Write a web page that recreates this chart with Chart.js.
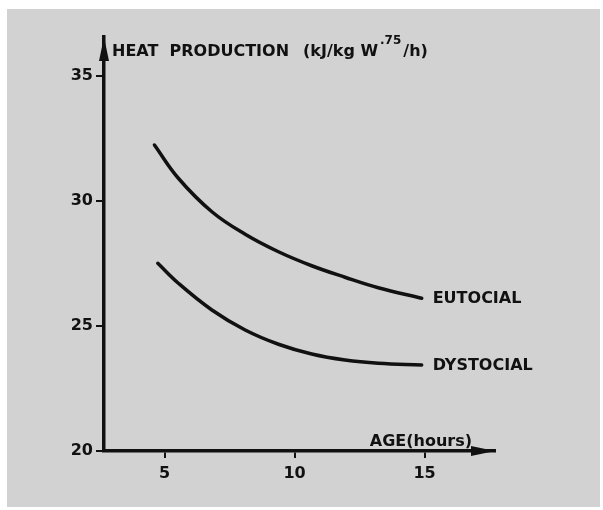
<!DOCTYPE html>
<html>
<head>
<meta charset="utf-8">
<script src="https://cdn.jsdelivr.net/npm/chart.js@4.4.1/dist/chart.umd.min.js"></script>
<style>
  html, body { margin: 0; padding: 0; background: #ffffff; }
  #wrap { width: 603px; height: 510px; position: relative; }
</style>
</head>
<body>
<div id="wrap"><canvas id="c" width="603" height="510"></canvas></div>
<script>
// ---- data ----
const ageEutocial  = [4.61, 5.53, 6.82, 8.10, 9.38, 10.66, 11.94, 13.22, 14.89];
const heatEutocial = [32.24, 30.91, 29.57, 28.67, 27.97, 27.41, 26.95, 26.53, 26.11];
const ageDystocial  = [4.74, 5.53, 6.82, 8.10, 9.38, 10.66, 11.94, 13.22, 14.89];
const heatDystocial = [27.51, 26.71, 25.64, 24.84, 24.27, 23.88, 23.64, 23.51, 23.44];
const xTicks = [5, 10, 15];
const yTicks = [20, 25, 30, 35];
const seriesNames = ['EUTOCIAL', 'DYSTOCIAL'];
const yTitleA = 'HEAT  PRODUCTION';
const yTitleB = '(kJ/kg W';
const yTitleSup = '.75';
const yTitleEnd = '/h)';
const xTitle = 'AGE(hours)';

const FONT = '"DejaVu Sans", sans-serif';
const INK = '#111111';

function toPoints(xs, ys) { return xs.map((x, i) => ({ x: x, y: ys[i] })); }

const decor = {
  id: 'decor',
  beforeDraw(chart) {
    const ctx = chart.ctx;
    ctx.save();
    ctx.fillStyle = '#ffffff';
    ctx.fillRect(0, 0, chart.width, chart.height);
    ctx.fillStyle = '#d2d2d2';
    ctx.fillRect(7, 9, 593, 498);
    ctx.restore();
  },
  afterDraw(chart) {
    const ctx = chart.ctx;
    const a = chart.chartArea;
    ctx.save();
    ctx.fillStyle = INK;
    // y-axis arrowhead
    ctx.beginPath();
    ctx.moveTo(a.left, a.top);
    ctx.lineTo(a.left - 5, a.top + 24);
    ctx.lineTo(a.left + 5, a.top + 24);
    ctx.closePath();
    ctx.fill();
    // x-axis arrowhead
    ctx.beginPath();
    ctx.moveTo(a.right, a.bottom);
    ctx.lineTo(a.right - 24, a.bottom - 5);
    ctx.lineTo(a.right - 24, a.bottom + 5);
    ctx.closePath();
    ctx.fill();

    // y title with superscript
    ctx.textBaseline = 'alphabetic';
    ctx.textAlign = 'left';
    ctx.font = 'bold 16px ' + FONT;
    const ty = 56;
    ctx.fillText(yTitleA, a.left + 8, ty);
    let tx = a.left + 199;
    ctx.fillText(yTitleB, tx, ty);
    tx += ctx.measureText(yTitleB).width + 2;
    ctx.font = 'bold 12px ' + FONT;
    ctx.fillText(yTitleSup, tx, ty - 12);
    tx += ctx.measureText(yTitleSup).width + 2;
    ctx.font = 'bold 16px ' + FONT;
    ctx.fillText(yTitleEnd, tx, ty);

    // x title
    ctx.textAlign = 'right';
    ctx.fillText(xTitle, a.right - 23, a.bottom - 5);

    // series labels at line ends
    ctx.textAlign = 'left';
    ctx.textBaseline = 'middle';
    chart.data.datasets.forEach((ds, i) => {
      const meta = chart.getDatasetMeta(i);
      const last = meta.data[meta.data.length - 1];
      ctx.fillText(seriesNames[i], last.x + 11, last.y + 1);
    });
    ctx.restore();
  }
};

new Chart(document.getElementById('c'), {
  type: 'scatter',
  data: {
    datasets: [
      { label: seriesNames[0], data: toPoints(ageEutocial, heatEutocial) },
      { label: seriesNames[1], data: toPoints(ageDystocial, heatDystocial) }
    ]
  },
  options: {
    responsive: false,
    animation: false,
    devicePixelRatio: 1,
    layout: { padding: { left: 0, top: 37, right: 108, bottom: 0 } },
    elements: {
      line: { borderColor: INK, borderWidth: 3.5, tension: 0.4, fill: false, borderCapStyle: 'round' },
      point: { radius: 0, hoverRadius: 0 }
    },
    datasets: { scatter: { showLine: true } },
    plugins: { legend: { display: false }, tooltip: { enabled: false } },
    scales: {
      x: {
        type: 'linear',
        min: 2.67, max: 17.71,
        afterBuildTicks: (s) => { s.ticks = xTicks.map(v => ({ value: v })); },
        afterFit: (s) => { s.height = 59; },
        grid: { display: true, drawOnChartArea: false, drawTicks: true, tickLength: 7, color: INK, lineWidth: 2 },
        border: { display: true, color: INK, width: 3.5 },
        ticks: { color: INK, padding: 6, maxRotation: 0, font: { family: FONT, size: 16, weight: 'bold' } }
      },
      y: {
        type: 'linear',
        min: 20, max: 36.56,
        afterBuildTicks: (s) => { s.ticks = yTicks.map(v => ({ value: v })); },
        afterFit: (s) => { s.width = 104; },
        grid: { display: true, drawOnChartArea: false, drawTicks: true, tickLength: 8, color: INK, lineWidth: 2 },
        border: { display: true, color: INK, width: 3.5 },
        ticks: { color: INK, padding: 3, font: { family: FONT, size: 16, weight: 'bold' } }
      }
    }
  },
  plugins: [decor]
});
</script>
</body>
</html>
